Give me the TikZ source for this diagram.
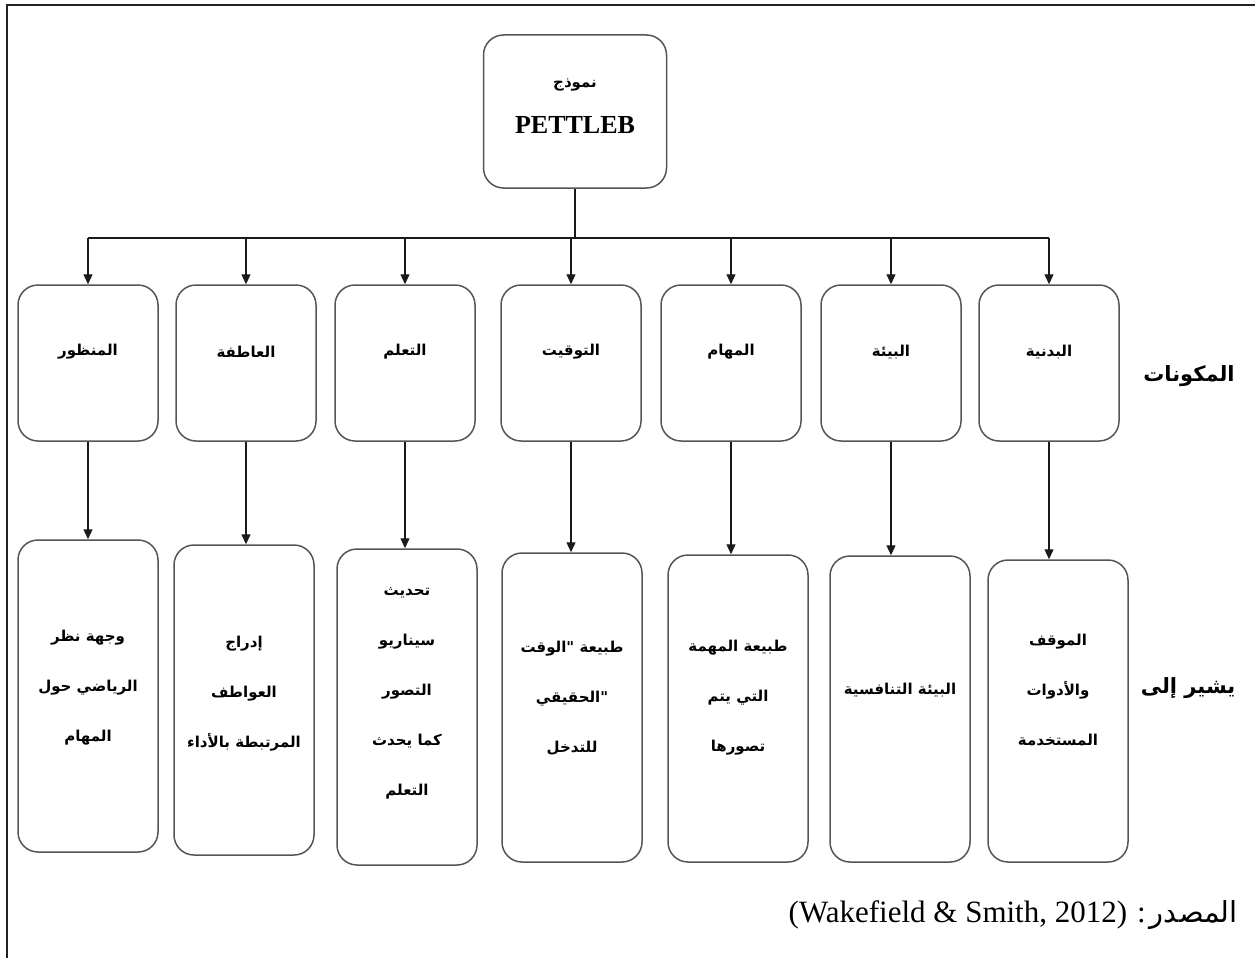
\documentclass[tikz,border=0pt]{standalone}
\usepackage{fontspec}
\setmainfont{Liberation Serif}
\newfontfamily\arabicfont[Script=Arabic]{DejaVu Sans}
\TeXXeTstate=1
\usetikzlibrary{arrows.meta}
\newcommand\ar[1]{\beginR #1\endR}
\definecolor{boxgray}{HTML}{555555}
\definecolor{linkblack}{HTML}{1A1A1A}
\definecolor{framegray}{HTML}{222222}

\begin{document}
\begin{tikzpicture}[x=1pt,y=-1pt,
  box/.style={draw=boxgray, line width=1.5pt, rounded corners=20pt,
    minimum width=140pt, inner sep=0pt},
  comp/.style={box, minimum height=156pt},
  boxtext/.style={align=center, inner sep=0pt,
    font=\arabicfont\bfseries\fontsize{15}{50}\selectfont},
  sidelabel/.style={inner sep=0pt, font=\arabicfont\bfseries\fontsize{21}{24}\selectfont},
  wire/.style={draw=linkblack, line width=1.3pt},
  link/.style={wire, -{Triangle[length=10pt,width=9pt]}}]
\useasboundingbox (0,0) rectangle (1255,958);

% page frame: top and left edges only
\draw[framegray, line width=2pt] (1255,5.5) -- (6.5,5.5) -- (6.5,958);

% model box
\node[box, minimum width=183pt, minimum height=153pt] (top) at (575,111.5) {};
\node[align=center, inner sep=0pt] (toptext) at (575,106)
  {{\arabicfont\bfseries\fontsize{15}{18}\selectfont\ar{نموذج}}\\[24pt]
   {\bfseries\fontsize{26}{28}\selectfont PETTLEB}};

% components
\node[comp] (c1) at (88,363) {};
\node[comp] (c2) at (246,363) {};
\node[comp] (c3) at (405,363) {};
\node[comp] (c4) at (571,363) {};
\node[comp] (c5) at (731,363) {};
\node[comp] (c6) at (891,363) {};
\node[comp] (c7) at (1049,363) {};

\node[boxtext] (ct1) at (88,352) {\ar{المنظور}};
\node[boxtext] (ct2) at (246,352) {\ar{العاطفة}};
\node[boxtext] (ct3) at (405,352) {\ar{التعلم}};
\node[boxtext] (ct4) at (571,352) {\ar{التوقيت}};
\node[boxtext] (ct5) at (731,352) {\ar{المهام}};
\node[boxtext] (ct6) at (891,352) {\ar{البيئة}};
\node[boxtext] (ct7) at (1049,352) {\ar{البدنية}};

% what each component refers to
\node[box, minimum height=312pt] (d1) at (88,696) {};
\node[box, minimum height=310pt] (d2) at (244,700) {};
\node[box, minimum height=316pt] (d3) at (407,707) {};
\node[box, minimum height=309pt] (d4) at (572,707.5) {};
\node[box, minimum height=307pt] (d5) at (738,708.5) {};
\node[box, minimum height=306pt] (d6) at (900,709) {};
\node[box, minimum height=302pt] (d7) at (1058,711) {};

\node[boxtext] (dt1) at (88,688) {\ar{وجهة نظر}\\\ar{الرياضي حول}\\\ar{المهام}};
\node[boxtext] (dt2) at (244,694) {\ar{إدراج}\\\ar{العواطف}\\\ar{المرتبطة بالأداء}};
\node[boxtext] (dt3) at (407,693) {\ar{تحديث}\\\ar{سيناريو}\\\ar{التصور}\\\ar{كما يحدث}\\\ar{التعلم}};
\node[boxtext] (dt4) at (572,698) {\ar{طبيعة "الوقت}\\\ar{"الحقيقي}\\\ar{للتدخل}};
\node[boxtext] (dt5) at (738,698) {\ar{طبيعة المهمة}\\\ar{التي يتم}\\\ar{تصورها}};
\node[boxtext] (dt6) at (900,690) {\ar{البيئة التنافسية}};
\node[boxtext] (dt7) at (1058,690) {\ar{الموقف}\\\ar{والأدوات}\\\ar{المستخدمة}};

% row labels
\node[sidelabel] (lab1) at (1189,376) {\ar{المكونات}};
\node[sidelabel] (lab2) at (1188,688) {\ar{يشير إلى}};

% distribution bus
\coordinate (busL) at (88,238);
\draw[wire] (top.south) -- (top.south |- busL);
\draw[wire] (c1.north |- busL) -- (c7.north |- busL);
\foreach \i in {1,...,7}{
  \draw[link] (c\i.north |- busL) -- (c\i.north);
  \draw[link] (c\i.south) -- (c\i.south |- d\i.north);
}

% source line
\node[anchor=base east, inner sep=0pt] (src) at (1238,922)
  {{\fontsize{31}{34}\selectfont (Wakefield \& Smith, 2012)\hspace{10pt}:}\hspace{4pt}{\arabicfont\fontsize{29}{34}\selectfont\ar{المصدر}}};
\end{tikzpicture}
\end{document}
